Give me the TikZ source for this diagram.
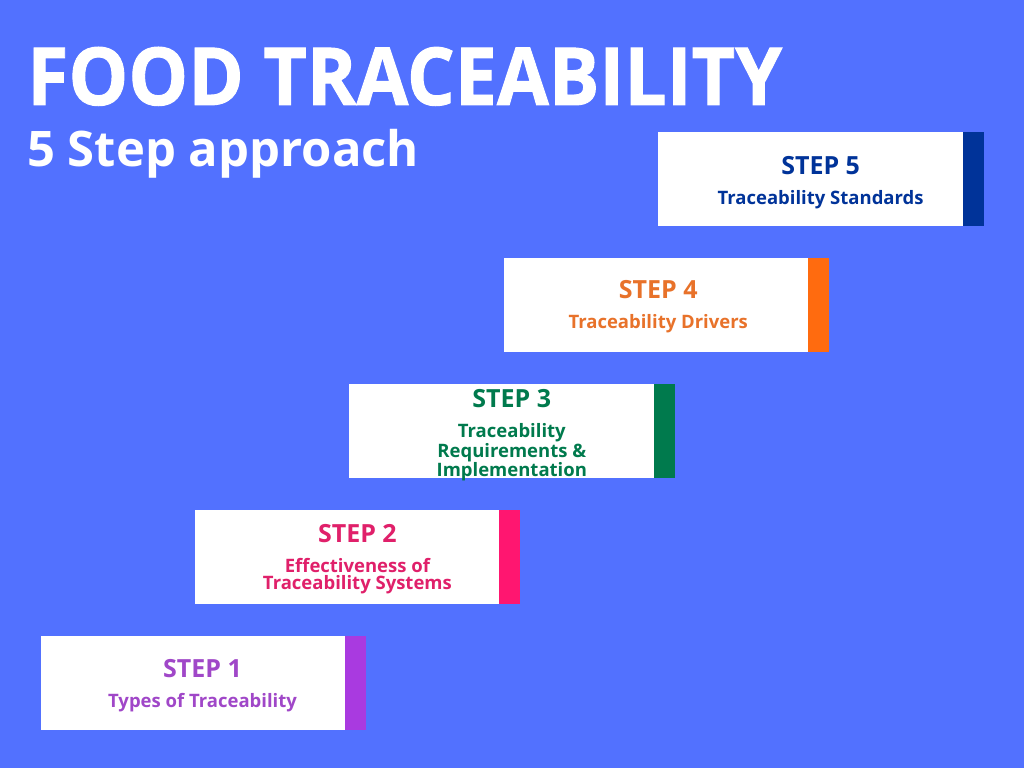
\documentclass[tikz,border=0pt]{standalone}
\usepackage{fontspec}
\setmainfont{Open Sans}
\newfontfamily\headfont{Open Sans}[BoldFeatures={FakeBold=1.2}]
\usetikzlibrary{positioning}

\definecolor{bgblue}{HTML}{5271FF}
\definecolor{navy}{HTML}{003399}
\definecolor{orangebar}{HTML}{FF6B0F}
\definecolor{orangetext}{HTML}{E8722A}
\definecolor{greenbar}{HTML}{007A4D}
\definecolor{pinkbar}{HTML}{FF1670}
\definecolor{pinktext}{HTML}{E0206A}
\definecolor{purplebar}{HTML}{A93AE0}
\definecolor{purpletext}{HTML}{A047C8}

\begin{document}
\begin{tikzpicture}[x=1pt,y=1pt,
  stepbox/.style={rectangle,fill=white,minimum width=305pt,minimum height=94pt,inner sep=0pt},
  stepbar/.style={rectangle,minimum width=21pt,minimum height=94pt,inner sep=0pt,right=-1pt of #1},
  steptitle/.style={anchor=base,inner sep=0pt,font=\fontsize{25}{30}\selectfont\bfseries},
  stepdesc/.style={anchor=north,inner sep=0pt,align=center,font=\fontsize{18.5}{17}\selectfont\bfseries}]

  \fill[bgblue] (0,0) rectangle (1024,768);
  \useasboundingbox (0,0) rectangle (1024,768);

  \node[anchor=base west,inner sep=0pt,text=white,font=\fontsize{80}{90}\selectfont\headfont\bfseries] (title) at (27,663) {\scalebox{0.94}[1]{FOOD TRACEABILITY}};
  \node[anchor=base west,inner sep=0pt,text=white,font=\fontsize{49}{56}\selectfont\bfseries] (subtitle) at (27,601) {5 Step approach};

  \node[stepbox] (b1) at (193,85.5) {};
  \node[stepbox] (b2) at (347.4,211.3) {};
  \node[stepbox] (b3) at (501.8,337.1) {};
  \node[stepbox] (b4) at (656.2,462.9) {};
  \node[stepbox] (b5) at (810.6,588.7) {};

  \node[stepbar=b1,fill=purplebar] (s1) {};
  \node[stepbar=b2,fill=pinkbar] (s2) {};
  \node[stepbar=b3,fill=greenbar] (s3) {};
  \node[stepbar=b4,fill=orangebar] (s4) {};
  \node[stepbar=b5,fill=navy] (s5) {};

  \node[steptitle,text=purpletext] (t1) at ([xshift=9.5pt,yshift=5.5pt]b1.center) {STEP 1};
  \node[stepdesc,text=purpletext,below=16pt of t1.base] (d1) {Types of Traceability};

  \node[steptitle,text=pinktext] (t2) at ([xshift=10pt,yshift=14.5pt]b2.center) {STEP 2};
  \node[stepdesc,text=pinktext,below=16pt of t2.base] (d2) {Effectiveness of\\Traceability Systems};

  \node[steptitle,text=greenbar] (t3) at ([xshift=10pt,yshift=23.5pt]b3.center) {STEP 3};
  \node[stepdesc,text=greenbar,below=16pt of t3.base] (d3) {Traceability\\Requirements \&\\Implementation};

  \node[steptitle,text=orangetext] (t4) at ([xshift=2pt,yshift=7pt]b4.center) {STEP 4};
  \node[stepdesc,text=orangetext,below=16pt of t4.base] (d4) {Traceability Drivers};

  \node[steptitle,text=navy] (t5) at ([xshift=10pt,yshift=5pt]b5.center) {STEP 5};
  \node[stepdesc,text=navy,below=16pt of t5.base] (d5) {Traceability Standards};

\end{tikzpicture}
\end{document}
